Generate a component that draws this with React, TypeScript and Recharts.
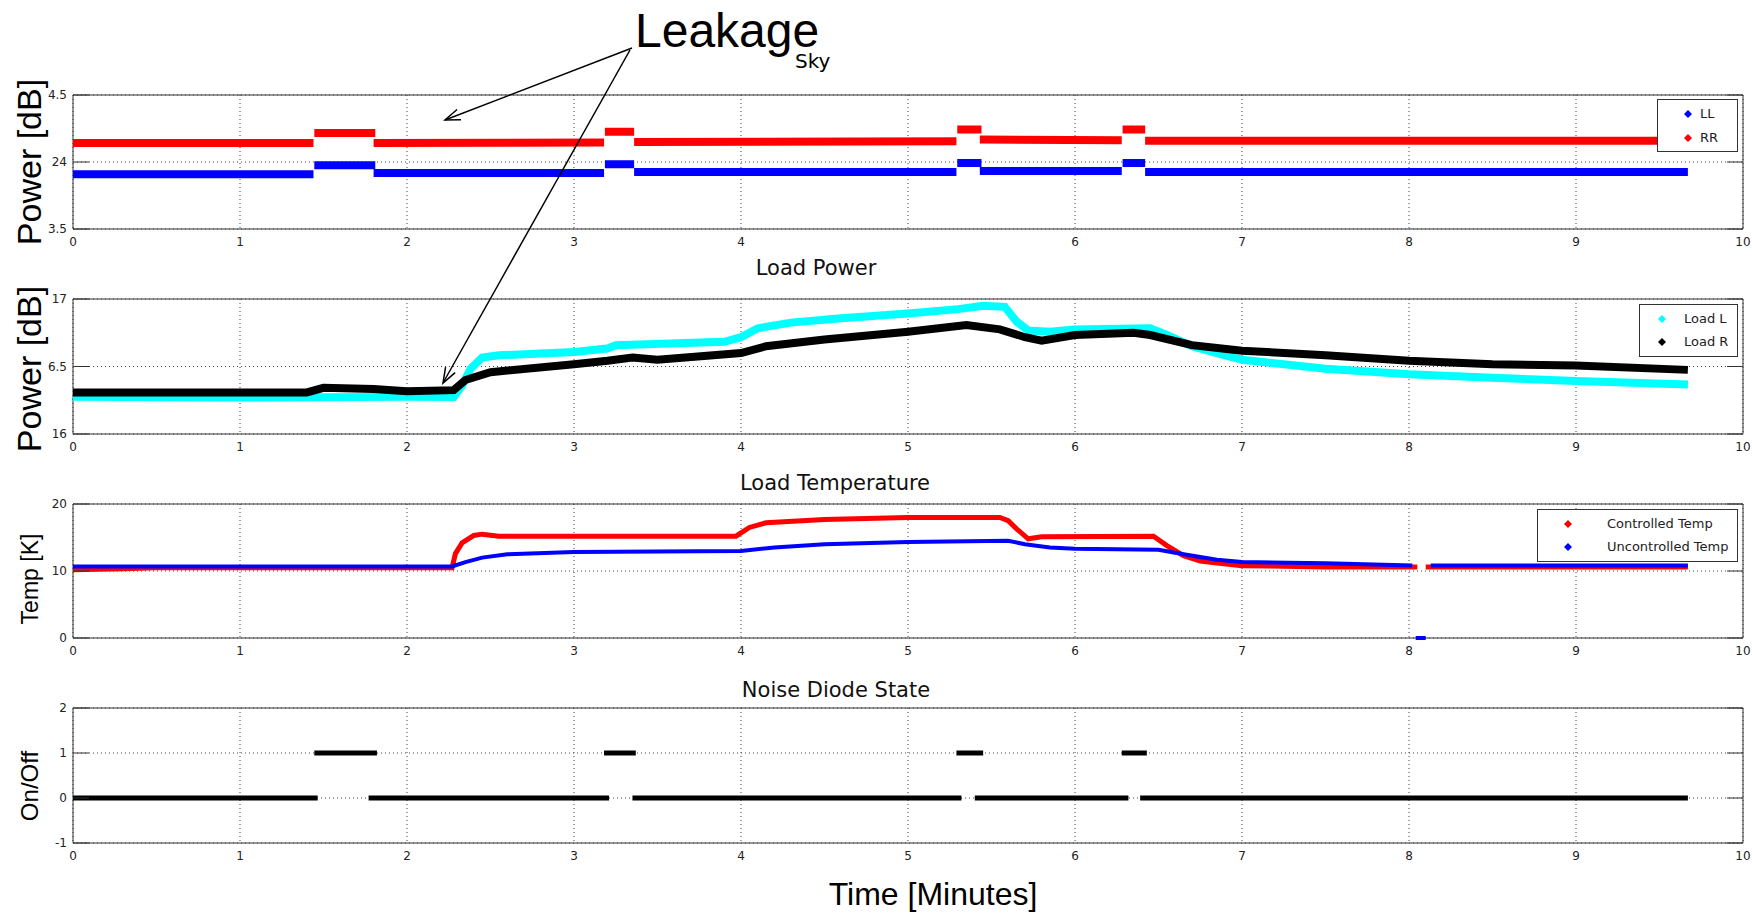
import React from 'react';
import {
  LineChart,
  Line,
  XAxis,
  YAxis,
  CartesianGrid,
  ReferenceArea,
  Legend,
} from 'recharts';

if (typeof document !== 'undefined') {
  document.body.style.margin = '0';
}

type Pt = [number, number | null];

const minuteTicks = [0, 1, 2, 3, 4, 5, 6, 7, 8, 9, 10];

// sky power (top panel), tick labels as printed on the figure
const skyTicks = [3.5, 4, 4.5];
const skyTickLabels: Record<string, string> = { '3.5': '3.5', '4': '24', '4.5': '4.5' };

const llPoints: Pt[] = [
  [0, 3.908], [1.44, 3.908], [1.445, null],
  [1.445, 3.975], [1.81, 3.975], [1.815, null],
  [1.8, 3.917], [3.18, 3.917], [3.185, null],
  [3.185, 3.983], [3.36, 3.983], [3.365, null],
  [3.36, 3.925], [5.29, 3.925], [5.295, null],
  [5.295, 3.992], [5.44, 3.992], [5.445, null],
  [5.43, 3.933], [6.28, 3.933], [6.285, null],
  [6.285, 3.992], [6.42, 3.992], [6.425, null],
  [6.42, 3.925], [9.67, 3.925],
];

const rrPoints: Pt[] = [
  [0, 4.142], [1.44, 4.142], [1.445, null],
  [1.445, 4.217], [1.81, 4.217], [1.815, null],
  [1.8, 4.142], [3.18, 4.145], [3.185, null],
  [3.185, 4.225], [3.36, 4.225], [3.365, null],
  [3.36, 4.15], [5.29, 4.155], [5.295, null],
  [5.295, 4.242], [5.44, 4.242], [5.445, null],
  [5.43, 4.167], [6.28, 4.162], [6.285, null],
  [6.285, 4.242], [6.42, 4.242], [6.425, null],
  [6.42, 4.158], [9.67, 4.158],
];

// load power
const loadTicks = [6, 6.5, 7];
const loadTickLabels: Record<string, string> = { '6': '16', '6.5': '6.5', '7': '17' };

const loadLPoints: Pt[] = [
  [0, 6.275], [1.0, 6.27], [2.0, 6.275], [2.28, 6.275], [2.33, 6.358],
  [2.38, 6.483], [2.45, 6.567], [2.55, 6.583], [3.0, 6.608], [3.2, 6.633],
  [3.25, 6.658], [3.9, 6.683], [4.0, 6.717], [4.1, 6.783], [4.3, 6.825],
  [4.6, 6.858], [5.0, 6.892], [5.3, 6.925], [5.45, 6.95], [5.58, 6.942],
  [5.65, 6.833], [5.72, 6.767], [5.85, 6.758], [6.0, 6.775], [6.45, 6.783],
  [6.55, 6.733], [6.7, 6.65], [6.9, 6.583], [7.0, 6.55], [7.5, 6.483],
  [8.0, 6.442], [8.5, 6.417], [9.0, 6.392], [9.67, 6.367],
];

const loadRPoints: Pt[] = [
  [0, 6.308], [1.4, 6.308], [1.5, 6.342], [1.8, 6.333], [2.0, 6.317],
  [2.28, 6.325], [2.35, 6.4], [2.5, 6.458], [3.0, 6.517], [3.2, 6.542],
  [3.35, 6.567], [3.5, 6.55], [4.0, 6.6], [4.15, 6.65], [4.5, 6.7],
  [5.0, 6.758], [5.35, 6.808], [5.55, 6.775], [5.7, 6.717], [5.8, 6.692],
  [6.0, 6.733], [6.35, 6.75], [6.45, 6.733], [6.7, 6.658], [7.0, 6.617],
  [7.5, 6.583], [8.0, 6.542], [8.5, 6.517], [9.0, 6.508], [9.67, 6.475],
];

// load temperature
const tempTicks = [0, 10, 20];

const controlledPoints: Pt[] = [
  [0, 10.17], [0.3, 10.33], [0.5, 10.5], [2.27, 10.5], [2.29, 12.6],
  [2.33, 14.2], [2.4, 15.3], [2.45, 15.5], [2.55, 15.2], [3.97, 15.2],
  [4.05, 16.5], [4.15, 17.2], [4.5, 17.7], [5.0, 18.0], [5.55, 18.0],
  [5.6, 17.5], [5.65, 16.3], [5.72, 14.8], [5.8, 15.1], [6.47, 15.2],
  [6.55, 13.8], [6.65, 12.3], [6.75, 11.5], [6.85, 11.2], [7.0, 10.8],
  [7.5, 10.6], [8.05, 10.6], [8.06, null], [8.1, 10.6], [9.67, 10.6],
];

const uncontrolledPoints: Pt[] = [
  [0, 10.67], [2.27, 10.67], [2.35, 11.33], [2.45, 12.0], [2.6, 12.5],
  [3.0, 12.83], [4.0, 13.0], [4.2, 13.5], [4.5, 14.0], [5.0, 14.33],
  [5.6, 14.5], [5.7, 14.0], [5.85, 13.5], [6.0, 13.33], [6.5, 13.17],
  [6.65, 12.5], [6.85, 11.67], [7.0, 11.33], [7.5, 11.17], [8.02, 10.83],
  [8.03, null], [8.04, 0], [8.1, 0], [8.11, null], [8.13, 10.83], [9.67, 10.83],
];

// noise diode state
const diodeTicks = [-1, 0, 1, 2];

const diodePoints: Pt[] = [
  [0, 0], [1.465, 0], [1.466, null],
  [1.445, 1], [1.82, 1], [1.821, null],
  [1.77, 0], [3.21, 0], [3.211, null],
  [3.18, 1], [3.37, 1], [3.371, null],
  [3.35, 0], [5.32, 0], [5.321, null],
  [5.29, 1], [5.45, 1], [5.451, null],
  [5.4, 0], [6.32, 0], [6.321, null],
  [6.28, 1], [6.43, 1], [6.431, null],
  [6.39, 0], [9.67, 0],
];

const PLOT_LEFT = 73;
const PLOT_RIGHT = 1743;
const TICK_FONT = 'DejaVu Sans';

const toRows = (pts: Pt[]) => pts.map(([t, v]) => ({ t, v }));

type Series = { name: string; color: string; points: Pt[]; width: number };

type LegendSpec = {
  left: number;
  top: number;
  width: number;
  height: number;
  markerX: number;
  textX: number;
  rowY: number[];
};

function LegendBox({ series, spec }: { series: Series[]; spec: LegendSpec }) {
  return (
    <div
      style={{
        position: 'relative',
        width: spec.width,
        height: spec.height,
        border: '1px solid #333',
        background: '#fff',
        boxSizing: 'border-box',
        fontFamily: TICK_FONT,
        fontSize: 13,
        color: '#222',
      }}
    >
      {series.map((s, i) => (
        <React.Fragment key={s.name}>
          <svg
            width={8}
            height={8}
            style={{ position: 'absolute', left: spec.markerX - 4, top: spec.rowY[i] - 4 }}
          >
            <path d="M4 0 L8 4 L4 8 L0 4 Z" fill={s.color} />
          </svg>
          <span
            style={{
              position: 'absolute',
              left: spec.textX,
              top: spec.rowY[i] - 8,
              lineHeight: '16px',
              whiteSpace: 'nowrap',
            }}
          >
            {s.name}
          </span>
        </React.Fragment>
      ))}
    </div>
  );
}

type PanelProps = {
  top: number;
  plotHeight: number;
  domain: [number, number];
  ticks: number[];
  tickLabels?: Record<string, string>;
  series: Series[];
  legend?: LegendSpec;
  hiddenMinute?: number;
};

function Panel({ top, plotHeight, domain, ticks, tickLabels, series, legend, hiddenMinute }: PanelProps) {
  const marginTop = 10;
  const height = marginTop + plotHeight + 25;

  const renderYTick = (props: any) => {
    const { x, y, payload } = props;
    const key = String(payload.value);
    const text = tickLabels && tickLabels[key] !== undefined ? tickLabels[key] : key;
    return (
      <g>
        <line x1={PLOT_LEFT} x2={PLOT_LEFT + 16} y1={y} y2={y} stroke="#333" />
        <line x1={PLOT_RIGHT - 16} x2={PLOT_RIGHT} y1={y} y2={y} stroke="#333" />
        <text x={x} y={y} dy={4} textAnchor="end" fontSize={12} fontFamily={TICK_FONT} fill="#222">
          {text}
        </text>
      </g>
    );
  };

  return (
    <div style={{ position: 'absolute', left: 0, top: top - marginTop }}>
      <LineChart
        width={1752}
        height={height}
        margin={{ top: marginTop, right: 1752 - PLOT_RIGHT, left: 0, bottom: 0 }}
      >
        <CartesianGrid strokeDasharray="1 3" stroke="#444" />
        <XAxis
          dataKey="t"
          type="number"
          domain={[0, 10]}
          ticks={minuteTicks}
          allowDuplicatedCategory={false}
          axisLine={false}
          tickLine={false}
          tickSize={0}
          tickMargin={8}
          height={25}
          tickFormatter={(v: number) => (v === hiddenMinute ? '' : String(v))}
          tick={{ fontSize: 12, fontFamily: TICK_FONT, fill: '#222' }}
        />
        <YAxis
          type="number"
          domain={domain}
          ticks={ticks}
          width={PLOT_LEFT}
          axisLine={false}
          tickLine={false}
          tickSize={0}
          tickMargin={6}
          tick={renderYTick}
        />
        {series.map((s) => (
          <Line
            key={s.name}
            name={s.name}
            data={toRows(s.points)}
            dataKey="v"
            type="linear"
            stroke={s.color}
            strokeWidth={s.width}
            dot={false}
            connectNulls={false}
            isAnimationActive={false}
          />
        ))}
        <ReferenceArea
          x1={0}
          x2={10}
          y1={domain[0]}
          y2={domain[1]}
          fill="none"
          stroke="#333"
          strokeWidth={1}
        />
        {legend && (
          <Legend
            layout="vertical"
            align="center"
            verticalAlign="middle"
            wrapperStyle={{
              left: legend.left,
              top: legend.top - (top - marginTop),
              width: legend.width,
              height: legend.height,
            }}
            content={() => <LegendBox series={series} spec={legend} />}
          />
        )}
      </LineChart>
    </div>
  );
}

const skySeries: Series[] = [
  { name: 'LL', color: '#0000ff', points: llPoints, width: 8 },
  { name: 'RR', color: '#ff0000', points: rrPoints, width: 8 },
];

const loadSeries: Series[] = [
  { name: 'Load L', color: '#00ffff', points: loadLPoints, width: 8 },
  { name: 'Load R', color: '#000000', points: loadRPoints, width: 8 },
];

const tempSeries: Series[] = [
  { name: 'Controlled Temp', color: '#ff0000', points: controlledPoints, width: 5 },
  { name: 'Uncontrolled Temp', color: '#0000ff', points: uncontrolledPoints, width: 4 },
];

const diodeSeries: Series[] = [
  { name: 'State', color: '#000000', points: diodePoints, width: 5 },
];

function arrowHead(x1: number, y1: number, x2: number, y2: number, len = 16, spread = 0.35) {
  const ang = Math.atan2(y1 - y2, x1 - x2);
  const a = [x2 + len * Math.cos(ang + spread), y2 + len * Math.sin(ang + spread)];
  const b = [x2 + len * Math.cos(ang - spread), y2 + len * Math.sin(ang - spread)];
  return `M${a[0]},${a[1]} L${x2},${y2} L${b[0]},${b[1]}`;
}

const arrows = [
  { x1: 632, y1: 48, x2: 445, y2: 120 },
  { x1: 630, y1: 50, x2: 443, y2: 383 },
];

export default function App() {
  const labelFont = 'Liberation Sans, Arial, sans-serif';
  return (
    <div style={{ position: 'relative', width: 1752, height: 916, background: '#fff', overflow: 'hidden' }}>
      <Panel
        top={95}
        plotHeight={134}
        domain={[3.5, 4.5]}
        ticks={skyTicks}
        tickLabels={skyTickLabels}
        series={skySeries}
        hiddenMinute={5}
        legend={{ left: 1657, top: 99, width: 81, height: 53, markerX: 30, textX: 42, rowY: [14, 38] }}
      />
      <Panel
        top={299}
        plotHeight={135}
        domain={[6, 7]}
        ticks={loadTicks}
        tickLabels={loadTickLabels}
        series={loadSeries}
        legend={{ left: 1639, top: 304, width: 99, height: 53, markerX: 22, textX: 44, rowY: [14, 37] }}
      />
      <Panel
        top={504}
        plotHeight={134}
        domain={[0, 20]}
        ticks={tempTicks}
        series={tempSeries}
        legend={{ left: 1537, top: 509, width: 201, height: 53, markerX: 30, textX: 69, rowY: [14, 37] }}
      />
      <Panel top={708} plotHeight={135} domain={[-1, 2]} ticks={diodeTicks} series={diodeSeries} />

      <svg
        width={1752}
        height={916}
        style={{ position: 'absolute', left: 0, top: 0, pointerEvents: 'none' }}
      >
        <text x={635} y={47} fontSize={48} fontFamily={labelFont} fill="#000">
          Leakage
        </text>
        <text x={795} y={68} fontSize={20} fontFamily={TICK_FONT} fill="#000">
          Sky
        </text>
        {arrows.map((a, i) => (
          <g key={i} stroke="#000" strokeWidth={1.5} fill="none">
            <line x1={a.x1} y1={a.y1} x2={a.x2} y2={a.y2} />
            <path d={arrowHead(a.x1, a.y1, a.x2, a.y2)} />
          </g>
        ))}

        <text x={816} y={275} fontSize={21} fontFamily={TICK_FONT} textAnchor="middle" fill="#111">
          Load Power
        </text>
        <text x={835} y={490} fontSize={21} fontFamily={TICK_FONT} textAnchor="middle" fill="#111">
          Load Temperature
        </text>
        <text x={836} y={697} fontSize={21} fontFamily={TICK_FONT} textAnchor="middle" fill="#111">
          Noise Diode State
        </text>

        <text transform="translate(41,162) rotate(-90)" fontSize={34} fontFamily={labelFont} textAnchor="middle">
          Power [dB]
        </text>
        <text transform="translate(41,369) rotate(-90)" fontSize={34} fontFamily={labelFont} textAnchor="middle">
          Power [dB]
        </text>
        <text transform="translate(38,579) rotate(-90)" fontSize={23} fontFamily={labelFont} textAnchor="middle">
          Temp [K]
        </text>
        <text transform="translate(38,786) rotate(-90)" fontSize={24} fontFamily={labelFont} textAnchor="middle">
          On/Off
        </text>
        <text x={933} y={905} fontSize={32} fontFamily={labelFont} textAnchor="middle">
          Time [Minutes]
        </text>
      </svg>
    </div>
  );
}
